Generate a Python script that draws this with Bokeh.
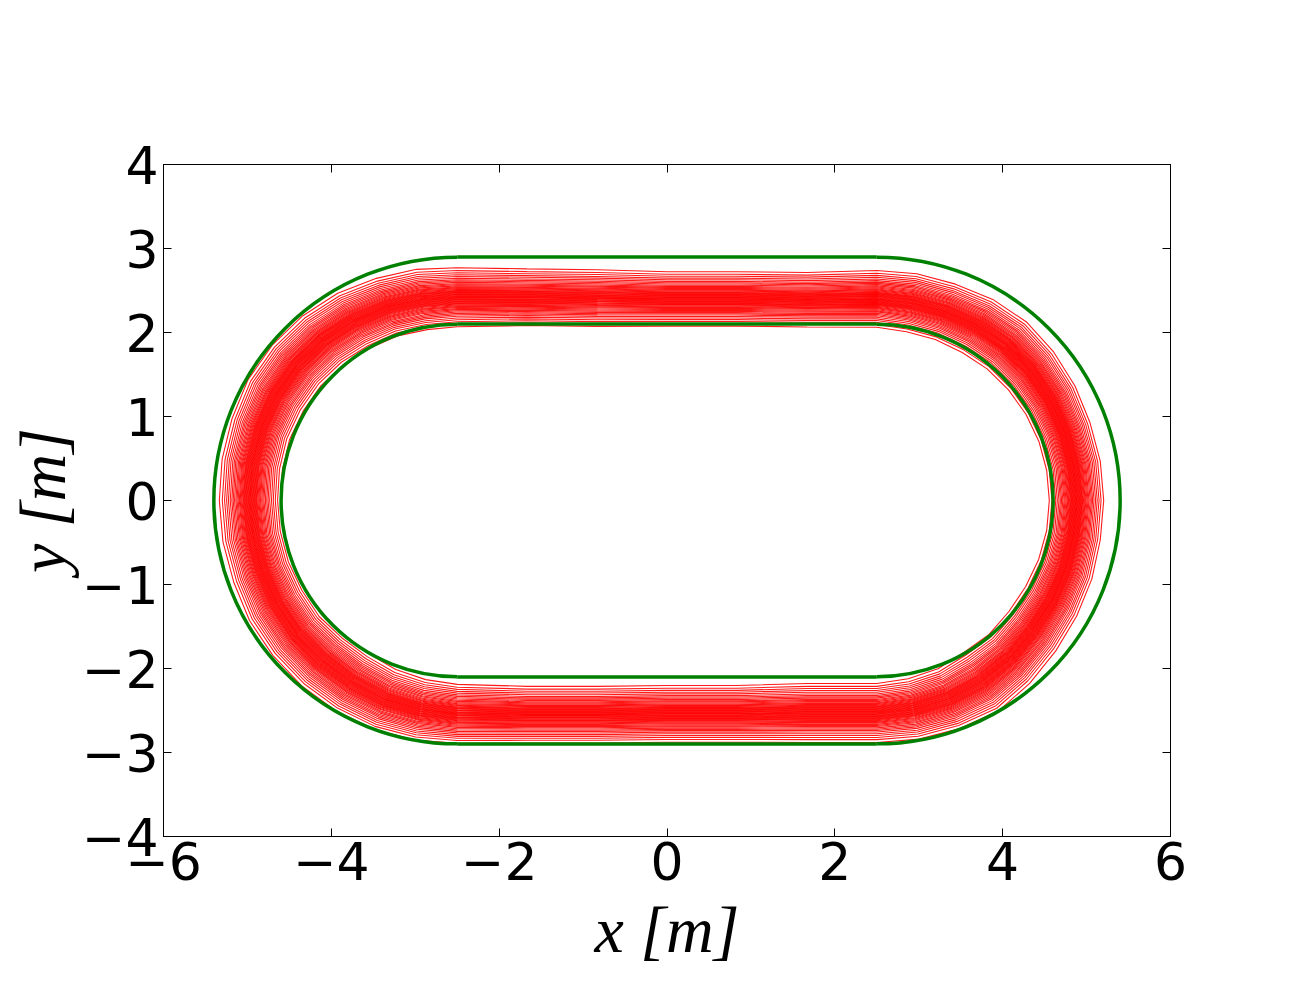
import math
from bokeh.plotting import figure
from bokeh.models import FixedTicker, LinearAxis, Range1d
from bokeh.embed import file_html
from bokeh.resources import INLINE

# ---- axes ----
x_ticks = [-6, -4, -2, 0, 2, 4, 6]
x_tick_labels = ["\u22126", "\u22124", "\u22122", "0", "2", "4", "6"]
y_ticks = [-4, -3, -2, -1, 0, 1, 2, 3, 4]
y_tick_labels = ["\u22124", "\u22123", "\u22122", "\u22121", "0", "1", "2", "3", "4"]

# ---- track geometry (green) ----
straight_half = 2.5
track_radii = [2.1, 2.9]          # inner / outer boundary
arc_centers_x = [2.5, -2.5]
arc_start_deg = [-90, 90]
arc_end_deg = [90, 270]

# ---- trajectory band (red), read at stations around the lap ----
# segment: R = right arc (par = angle deg), T = top straight (par = x),
#          L = left arc (par = angle deg), B = bottom straight (par = x)
station_seg = (["R"] * 10 + ["T"] * 5 + ["L"] * 19 + ["B"] * 5 + ["R"] * 10)
station_par = [0, 10, 20, 30, 40, 50, 60, 70, 80, 90,
               1.67, 0.83, 0.0, -0.83, -1.67,
               90, 100, 110, 120, 130, 140, 150, 160, 170, 180,
               190, 200, 210, 220, 230, 240, 250, 260, 270,
               -1.67, -0.83, 0.0, 0.83, 1.67,
               270, 280, 290, 300, 310, 320, 330, 340, 350, 360]
band_mid = [2.38, 2.38, 2.38, 2.39, 2.40, 2.41, 2.40, 2.39, 2.39, 2.40,
            2.39, 2.40, 2.40, 2.41, 2.42,
            2.42, 2.43, 2.45, 2.47, 2.49, 2.50, 2.50, 2.49, 2.48, 2.47,
            2.47, 2.47, 2.48, 2.49, 2.49, 2.50, 2.52, 2.53, 2.54,
            2.55, 2.55, 2.54, 2.54, 2.53,
            2.53, 2.52, 2.51, 2.49, 2.46, 2.42, 2.40, 2.39, 2.38, 2.38]
band_half = [0.24, 0.24, 0.24, 0.25, 0.26, 0.27, 0.27, 0.26, 0.26, 0.25,
             0.24, 0.24, 0.24, 0.25, 0.25,
             0.26, 0.27, 0.27, 0.28, 0.28, 0.28, 0.28, 0.27, 0.27, 0.27,
             0.27, 0.27, 0.28, 0.28, 0.29, 0.29, 0.28, 0.27, 0.26,
             0.25, 0.25, 0.25, 0.25, 0.26,
             0.26, 0.27, 0.28, 0.30, 0.28, 0.27, 0.26, 0.25, 0.24, 0.24]
lane_frac = [-1.35, -1.22, -1.12, -1.03, -0.95, -0.87, -0.80, -0.74, -0.68,
             -0.62, -0.57, -0.52, -0.47, -0.43, -0.39, -0.35, -0.31, -0.28,
             -0.25, -0.22, -0.19, -0.16, -0.13, -0.10, -0.07, -0.04, -0.01,
             0.01, 0.04, 0.07, 0.10, 0.13, 0.16, 0.19, 0.22, 0.25,
             0.28, 0.31, 0.35, 0.39, 0.43, 0.47, 0.52, 0.57, 0.62,
             0.68, 0.74, 0.80, 0.87, 0.95, 1.03, 1.12, 1.22, 1.35]


def station_xy(seg, par, r):
    if seg == "R":
        a = math.radians(par)
        return straight_half + r * math.cos(a), r * math.sin(a)
    if seg == "L":
        a = math.radians(par)
        return -straight_half + r * math.cos(a), r * math.sin(a)
    if seg == "T":
        return par, r
    return par, -r


xs, ys = [], []
for f in lane_frac:
    lx, ly = [], []
    for seg, par, m, h in zip(station_seg, station_par, band_mid, band_half):
        px, py = station_xy(seg, par, m + f * h)
        lx.append(px)
        ly.append(py)
    xs.append(lx)
    ys.append(ly)

p = figure(frame_width=1007, frame_height=672,
           x_range=Range1d(-6, 6), y_range=Range1d(-4, 4),
           output_backend="svg", toolbar_location=None,
           min_border_left=163, min_border_top=164,
           min_border_right=120, min_border_bottom=150,
           background_fill_color="white", border_fill_color="white")
p.grid.visible = False
p.outline_line_color = "black"
p.outline_line_width = 1

# red trajectories
p.multi_line(xs, ys, line_color="#ff0000", line_alpha=0.9, line_width=1.1)

# green boundaries
GREEN = "#008000"
for r in track_radii:
    p.segment(x0=[-straight_half, -straight_half], y0=[r, -r],
              x1=[straight_half, straight_half], y1=[r, -r],
              line_color=GREEN, line_width=3.5)
    p.arc(x=arc_centers_x, y=[0, 0], radius=[r, r],
          start_angle=[math.radians(a) for a in arc_start_deg],
          end_angle=[math.radians(a) for a in arc_end_deg],
          line_color=GREEN, line_width=3.5)


def style_axis(ax, ticks, labels, show_labels):
    ax.ticker = FixedTicker(ticks=ticks)
    if show_labels:
        ax.major_label_overrides = {t: l for t, l in zip(ticks, labels)}
    else:
        ax.major_label_overrides = {t: "" for t in ticks}
    ax.major_tick_in = 8
    ax.major_tick_out = 0
    ax.minor_tick_line_color = None
    ax.axis_line_color = "black"
    ax.major_tick_line_color = "black"
    ax.major_label_text_font = "DejaVu Sans"
    ax.major_label_text_font_size = "52px"
    ax.major_label_text_color = "black"
    ax.major_label_standoff = 5


xaxis = p.xaxis[0]
yaxis = p.yaxis[0]
style_axis(xaxis, x_ticks, x_tick_labels, True)
style_axis(yaxis, y_ticks, y_tick_labels, True)
top = LinearAxis()
right = LinearAxis()
style_axis(top, x_ticks, x_tick_labels, False)
style_axis(right, y_ticks, y_tick_labels, False)
p.add_layout(top, "above")
p.add_layout(right, "right")

for ax, lab in ((xaxis, "x [m]"), (yaxis, "y [m]")):
    ax.axis_label = lab
    ax.axis_label_text_font = "Liberation Serif"
    ax.axis_label_text_font_style = "italic"
    ax.axis_label_text_font_size = "66px"
    ax.axis_label_text_color = "black"
    ax.axis_label_standoff = 0
xaxis.axis_label_standoff = 10

open("out.html", "w").write(file_html(p, INLINE))
